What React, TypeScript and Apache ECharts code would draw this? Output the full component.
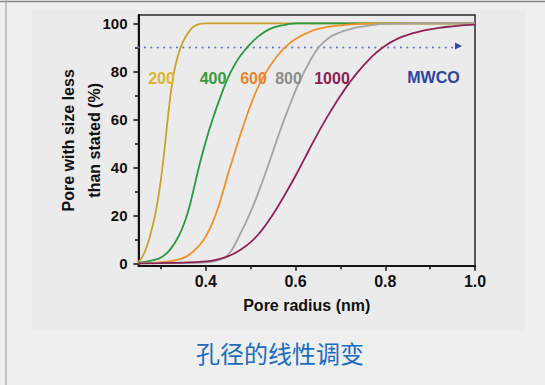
import React, { useEffect, useRef } from "react";
import * as echarts from "echarts";

// ---- data ----
const r200 = [0.25, 0.26, 0.27, 0.28, 0.29, 0.3, 0.305, 0.31, 0.315, 0.32, 0.325, 0.33, 0.335, 0.34, 0.345, 0.35, 0.36, 0.37, 0.38, 0.39, 0.4, 0.5, 0.7, 1.0];
const v200 = [0.5, 3.2, 7.8, 14.5, 23, 35, 42.5, 51, 60, 68, 75, 80.5, 84.5, 87.8, 90.5, 92.6, 95.9, 98.2, 99.4, 99.9, 100, 100, 100, 100];

const r400 = [0.25, 0.27, 0.29, 0.3, 0.32, 0.34, 0.35, 0.36, 0.37, 0.38, 0.39, 0.4, 0.41, 0.42, 0.43, 0.44, 0.45, 0.46, 0.47, 0.48, 0.49, 0.5, 0.52, 0.54, 0.56, 0.58, 0.6, 0.8, 1.0];
const v400 = [0.3, 0.8, 1.7, 2.4, 5.6, 11.5, 15.8, 21.2, 28.5, 36.5, 44, 50.8, 57, 62.7, 68, 73, 77.5, 81.3, 84.5, 87.2, 89.5, 91.6, 95, 97.4, 98.8, 99.5, 100, 100, 100];

const r600 = [0.25, 0.28, 0.3, 0.32, 0.34, 0.36, 0.38, 0.4, 0.42, 0.44, 0.45, 0.46, 0.47, 0.48, 0.49, 0.5, 0.51, 0.52, 0.53, 0.54, 0.55, 0.56, 0.57, 0.58, 0.59, 0.6, 0.62, 0.65, 0.7, 0.75, 0.8, 1.0];
const v600 = [0, 0.2, 0.5, 0.9, 1.6, 3.2, 6.4, 11.2, 19.3, 31, 37.5, 43.5, 49.5, 55.3, 60.8, 66, 70.7, 74.8, 78.3, 81.3, 84.1, 86.6, 88.8, 90.6, 92.2, 93.5, 95.5, 97.7, 99.2, 99.8, 100, 100];

const r800 = [0.25, 0.35, 0.4, 0.42, 0.43, 0.44, 0.45, 0.46, 0.47, 0.48, 0.49, 0.5, 0.51, 0.52, 0.53, 0.54, 0.55, 0.56, 0.57, 0.58, 0.59, 0.6, 0.61, 0.62, 0.63, 0.64, 0.65, 0.66, 0.68, 0.7, 0.72, 0.74, 0.77, 0.8, 0.85, 1.0];
const v800 = [0, 0.1, 0.4, 0.9, 1.5, 2.3, 3.6, 6.2, 9.7, 13.5, 17.3, 21.5, 26, 31, 36, 41.3, 46.8, 52.3, 57.5, 62.5, 67.3, 72, 76.2, 80, 83.6, 86.8, 89.6, 91.7, 94.6, 96.3, 97.5, 98.4, 99.3, 99.8, 100, 100];

const r1000 = [0.25, 0.3, 0.35, 0.4, 0.42, 0.44, 0.46, 0.48, 0.5, 0.52, 0.54, 0.56, 0.58, 0.6, 0.62, 0.64, 0.66, 0.68, 0.7, 0.72, 0.74, 0.76, 0.78, 0.8, 0.82, 0.84, 0.86, 0.88, 0.9, 0.92, 0.94, 0.96, 0.98, 1.0];
const v1000 = [0, 0.1, 0.3, 0.8, 1.3, 2.3, 3.8, 6, 8.8, 12.7, 17.7, 23.5, 29.8, 36.5, 43.6, 50.8, 57.6, 63.9, 69.8, 75.2, 80, 84.2, 87.8, 90.7, 92.9, 94.6, 95.8, 96.8, 97.5, 98.1, 98.6, 99, 99.3, 99.5];

const mwcoLine = [[0.25, 90], [0.962, 90]];

const seriesNames = ["200", "400", "600", "800", "1000"];
const seriesX = [r200, r400, r600, r800, r1000];
const seriesY = [v200, v400, v600, v800, v1000];
const lineColors = ["#c9a227", "#2a9a3c", "#f0922b", "#a3a3a3", "#8e2256"];
const labelColors = ["#dcb52a", "#3a9a3a", "#ec842a", "#8c8c8c", "#8b2152"];

const yMajorTicks = [0, 20, 40, 60, 80, 100];
const yMinorTicks = [10, 30, 50, 70, 90];
const xMajorTicks = [0.4, 0.6, 0.8, 1.0];
const xMinorTicks = [0.3, 0.5, 0.7, 0.9];

const xName = "Pore radius (nm)";
const yName = "Pore with size less\nthan stated (%)";
const caption = "孔径的线性调变";

// pixel centers of the in-plot curve labels
const labelPos = [
  [161.5, 78],
  [213, 78],
  [253.5, 78],
  [288.5, 78],
  [332, 78],
];

const FONT = "'Liberation Sans', Arial, sans-serif";

export default function App() {
  const ref = useRef<HTMLDivElement>(null);
  useEffect(() => {
    if (!ref.current) return;
    const chart = echarts.init(ref.current, null, { renderer: "svg" });
    const axisBase = {
      type: "value" as const,
      splitLine: { show: false },
    };
    const series: any[] = seriesNames.map((n, i) => ({
      name: n,
      type: "line",
      xAxisIndex: 0,
      yAxisIndex: 0,
      data: seriesX[i].map((x, k) => [x, seriesY[i][k]]),
      showSymbol: false,
      smooth: 0.5,
      lineStyle: { color: lineColors[i], width: 1.8 },
      z: 3 + i,
    }));
    series.push({
      name: "MWCO",
      type: "line",
      data: mwcoLine,
      showSymbol: false,
      lineStyle: { color: "#6272c8", width: 2, type: [0.1, 6.3], cap: "round" },
      z: 2,
    });
    chart.setOption({
      animation: false,
      backgroundColor: "transparent",
      grid: {
        left: 138.5,
        right: 70,
        top: 15,
        bottom: 119.3,
        show: true,
        borderColor: "#2a2a2a",
        borderWidth: 1.5,
        backgroundColor: "transparent",
      },
      xAxis: [
        {
          ...axisBase,
          position: "bottom",
          min: 0.25,
          max: 1.0,
          axisLine: { show: true, onZero: false, lineStyle: { color: "#111", width: 2 } },
          axisTick: { show: true, customValues: xMajorTicks, length: 5, lineStyle: { color: "#111", width: 1.5 } },
          axisLabel: {
            customValues: xMajorTicks,
            formatter: (v: number) => v.toFixed(1),
            color: "#111",
            fontFamily: FONT,
            fontWeight: "bold",
            fontSize: 16,
            margin: 8,
          },
          name: xName,
          nameLocation: "middle",
          nameGap: 32,
          nameMoveOverlap: false,
          nameTextStyle: { color: "#111", fontFamily: FONT, fontWeight: "bold", fontSize: 16 },
        },
        {
          ...axisBase,
          position: "bottom",
          min: 0.25,
          max: 1.0,
          axisLine: { show: false, onZero: false },
          axisTick: { show: true, customValues: xMinorTicks, length: 3.5, lineStyle: { color: "#111", width: 1.5 } },
          axisLabel: { show: false },
        },
      ],
      yAxis: [
        {
          ...axisBase,
          position: "left",
          min: -1,
          max: 103.5,
          axisLine: { show: true, onZero: false, lineStyle: { color: "#111", width: 2 } },
          axisTick: { show: true, customValues: yMajorTicks, length: 5, lineStyle: { color: "#111", width: 1.5 } },
          axisLabel: {
            customValues: yMajorTicks,
            color: "#111",
            fontFamily: FONT,
            fontWeight: "bold",
            fontSize: 15,
            margin: 11,
          },
          name: yName,
          nameLocation: "middle",
          nameGap: 31,
          nameMoveOverlap: false,
          nameTextStyle: { color: "#111", fontFamily: FONT, fontWeight: "bold", fontSize: 16, lineHeight: 26, align: "center" },
        },
        {
          ...axisBase,
          position: "left",
          min: -1,
          max: 103.5,
          axisLine: { show: false, onZero: false },
          axisTick: { show: true, customValues: yMinorTicks, length: 3.5, lineStyle: { color: "#111", width: 1.5 } },
          axisLabel: { show: false },
        },
      ],
      graphic: [
        { type: "line", shape: { x1: 0, y1: 1.5, x2: 545, y2: 1.5 }, style: { stroke: "#8a8a8a", lineWidth: 1.5 }, silent: true, z: -10 },
        { type: "line", shape: { x1: 6, y1: 0, x2: 6, y2: 385 }, style: { stroke: "#a5a5a5", lineWidth: 1.2 }, silent: true, z: -10 },
        { type: "rect", shape: { x: 32, y: 10, width: 493, height: 321 }, style: { fill: "#ebebeb" }, silent: true, z: -20 },
        ...seriesNames.map((n, i) => ({
          type: "text",
          x: labelPos[i][0],
          y: labelPos[i][1],
          style: {
            text: n,
            fill: labelColors[i],
            font: `bold 16px ${FONT}`,
            align: "center",
            verticalAlign: "middle",
          },
          z: 10,
        })),
        {
          type: "text",
          x: 433.5,
          y: 77,
          style: { text: "MWCO", fill: "#2b45a0", font: `bold 16px ${FONT}`, align: "center", verticalAlign: "middle" },
          z: 10,
        },
        {
          type: "polygon",
          shape: { points: [[455, 42.5], [462, 46], [455, 49.5]] },
          style: { fill: "#3048a8" },
          z: 10,
        },
        {
          type: "text",
          x: 280,
          y: 352,
          style: { text: caption, fill: "#1a6cc0", font: `24px 'Noto Sans CJK SC'`, align: "center", verticalAlign: "middle" },
          z: 10,
        },
      ],
      series,
    });
    return () => chart.dispose();
  }, []);
  return (
    <div
      ref={ref}
      style={{ position: "fixed", left: 0, top: 0, width: 545, height: 385, background: "#efefef" }}
    />
  );
}
